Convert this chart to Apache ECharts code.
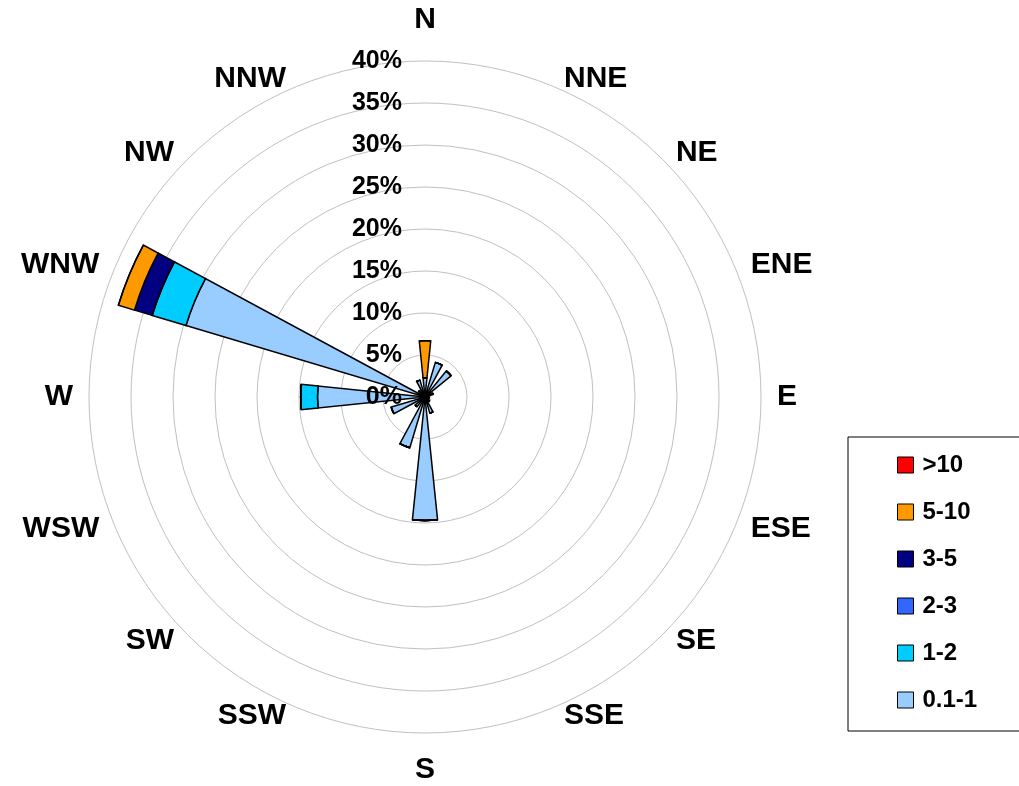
<!DOCTYPE html>
<html>
<head>
<meta charset="utf-8">
<script src="https://cdn.jsdelivr.net/npm/echarts@6/dist/echarts.min.js"></script>
<style>
html,body{margin:0;padding:0;background:#fff;}
#chart{width:1019px;height:786px;}
</style>
</head>
<body>
<div id="chart"></div>
<script>
// Wind directions (clockwise from North)
const directions = ['N','NNE','NE','ENE','E','ESE','SE','SSE','S','SSW','SW','WSW','W','WNW','NW','NNW'];
// Frequency (%) by wind speed class
const speed01_1 = [2.3, 4.3, 4.0, 1.0, 0.5, 0.5, 0.7, 2.0, 14.7, 6.3, 1.5, 4.2, 12.8, 29.7, 1.0, 2.1];
const speed1_2  = [0, 0, 0, 0, 0, 0, 0, 0, 0, 0, 0, 0, 2.0, 4.2, 0, 0];
const speed2_3  = [0, 0, 0, 0, 0, 0, 0, 0, 0, 0, 0, 0, 0, 0, 0, 0];
const speed3_5  = [0, 0, 0, 0, 0, 0, 0, 0, 0, 0, 0, 0, 0, 2.2, 0, 0];
const speed5_10 = [4.4, 0, 0, 0, 0, 0, 0, 0, 0, 0, 0, 0, 0, 2.0, 0, 0];
const speed10   = [0, 0, 0, 0, 0, 0, 0, 0, 0, 0, 0, 0, 0, 0, 0, 0];
const classNames = ['0.1-1', '1-2', '2-3', '3-5', '5-10', '>10'];
const classColors = ['#99CCFF', '#00CCFF', '#3366FF', '#000080', '#FF9900', '#FF0000'];
const radiusTicks = { min: 0, max: 40, interval: 5 };

const FONT = "'Liberation Sans', Arial, sans-serif";
const CENTER = [425, 397];
const R_PX = 336;
const LABEL_R = radiusTicks.max * 345 / R_PX;

const classData = [speed01_1, speed1_2, speed2_3, speed3_5, speed5_10, speed10];

const barSeries = classData.map((arr, k) => ({
  type: 'bar',
  name: classNames[k],
  coordinateSystem: 'polar',
  polarIndex: 0,
  stack: 'wind',
  barWidth: '52%',
  data: arr,
  itemStyle: { color: classColors[k], borderColor: '#000', borderWidth: 1.5 },
  emphasis: { disabled: true },
  z: 2
}));

const dirLabelData = directions.map((d, i) => {
  let position, distance;
  if (i === 0) { position = 'top'; distance = 17; }
  else if (i === 8) { position = 'bottom'; distance = 13; }
  else if (i < 8) { position = 'right'; distance = 7; }
  else { position = 'left'; distance = 7; }
  return { value: [LABEL_R, d], label: { position: position, distance: distance } };
});

const chart = echarts.init(document.getElementById('chart'), null, { renderer: 'canvas' });
chart.setOption({
  animation: false,
  backgroundColor: '#fff',
  polar: [
    { center: CENTER, radius: R_PX },
    { center: CENTER, radius: R_PX }
  ],
  angleAxis: [
    {
      polarIndex: 0,
      type: 'category',
      data: directions,
      startAngle: 90,
      clockwise: true,
      boundaryGap: false,
      axisLine: { show: false },
      axisTick: { show: false },
      axisLabel: { show: false },
      splitLine: { show: false }
    },
    {
      polarIndex: 1,
      type: 'value',
      min: 0, max: 360,
      startAngle: 90,
      axisLine: { show: false },
      axisTick: { show: false },
      axisLabel: { show: false },
      splitLine: { show: false }
    }
  ],
  radiusAxis: [
    {
      polarIndex: 0,
      type: 'value',
      min: radiusTicks.min,
      max: radiusTicks.max,
      interval: radiusTicks.interval,
      z: 10,
      axisLine: { show: false },
      axisTick: { show: false },
      axisLabel: {
        formatter: '{value}%',
        fontFamily: FONT, fontWeight: 'bold', fontSize: 25, color: '#000',
        margin: 23
      },
      splitLine: { show: false }
    },
    {
      polarIndex: 1,
      type: 'value',
      min: radiusTicks.min,
      max: radiusTicks.max,
      interval: radiusTicks.interval,
      z: 0,
      axisLine: { show: false },
      axisTick: { show: false },
      axisLabel: { show: false },
      splitLine: { show: true, lineStyle: { color: '#c0c0c0', width: 1 } }
    }
  ],
  legend: {
    orient: 'vertical',
    left: 848, top: 437,
    padding: [16, 200, 19, 49],
    itemGap: 23,
    itemWidth: 16, itemHeight: 16,
    icon: 'rect',
    borderColor: '#000', borderWidth: 1,
    data: classNames.slice().reverse(),
    selectedMode: false,
    itemStyle: { borderWidth: 1, borderColor: '#000' },
    textStyle: { fontFamily: FONT, fontWeight: 'bold', fontSize: 24, color: '#000', lineHeight: 24, padding: [0, 0, 0, 4] }
  },
  series: barSeries.concat([{
    type: 'scatter',
    coordinateSystem: 'polar',
    polarIndex: 0,
    symbolSize: 0,
    clip: false,
    silent: true,
    itemStyle: { opacity: 1 },
    data: dirLabelData,
    label: {
      show: true,
      opacity: 1,
      formatter: p => p.value[1],
      fontFamily: FONT, fontWeight: 'bold', fontSize: 30, color: '#000'
    },
    z: 5
  }])
});
</script>
</body>
</html>
